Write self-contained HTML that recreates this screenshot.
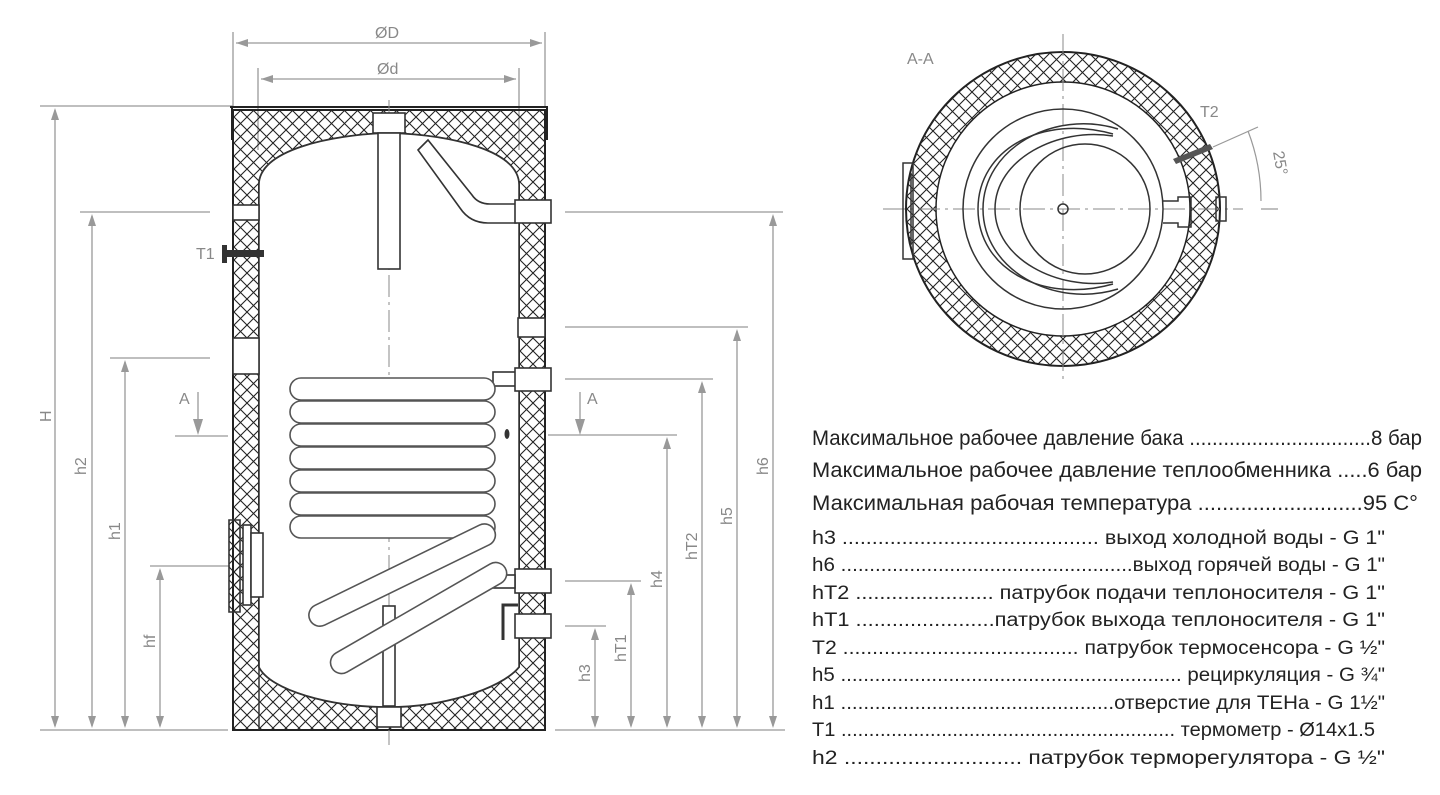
<!DOCTYPE html>
<html><head><meta charset="utf-8"><style>
html,body{margin:0;padding:0;background:#fff;width:1440px;height:795px;overflow:hidden}
svg{display:block}
text{font-family:"Liberation Sans",sans-serif}
</style></head><body>
<svg width="1440" height="795" viewBox="0 0 1440 795" xmlns="http://www.w3.org/2000/svg">
<defs>
<pattern id="h" patternUnits="userSpaceOnUse" width="13" height="13">
<path d="M0,0L13,13M13,0L0,13" stroke="#222" stroke-width="1.1"/>
</pattern>
</defs>

<!-- dimension lines -->
<g stroke="#999" stroke-width="1.3" fill="none">
<line x1="233" y1="32" x2="233" y2="108"/><line x1="545" y1="32" x2="545" y2="108"/>
<line x1="236" y1="43" x2="542" y2="43"/>
<line x1="258" y1="68" x2="258" y2="150"/><line x1="519" y1="68" x2="519" y2="150"/>
<line x1="261" y1="79" x2="516" y2="79"/>
<line x1="40" y1="106" x2="233" y2="106"/>
<line x1="40" y1="730" x2="228" y2="730"/>
<line x1="555" y1="730" x2="785" y2="730"/>
<line x1="80" y1="212" x2="210" y2="212"/>
<line x1="110" y1="358" x2="210" y2="358"/>
<line x1="175" y1="436" x2="228" y2="436"/>
<line x1="150" y1="566" x2="230" y2="566"/>
<line x1="565" y1="212" x2="783" y2="212"/>
<line x1="565" y1="327" x2="748" y2="327"/>
<line x1="565" y1="379" x2="713" y2="379"/>
<line x1="548" y1="435" x2="677" y2="435"/>
<line x1="565" y1="581" x2="641" y2="581"/>
<line x1="565" y1="626" x2="606" y2="626"/>
<line x1="55" y1="110" x2="55" y2="726"/>
<line x1="92" y1="216" x2="92" y2="726"/>
<line x1="125" y1="362" x2="125" y2="726"/>
<line x1="160" y1="570" x2="160" y2="726"/>
<line x1="773" y1="216" x2="773" y2="726"/>
<line x1="737" y1="331" x2="737" y2="726"/>
<line x1="702" y1="383" x2="702" y2="726"/>
<line x1="667" y1="439" x2="667" y2="726"/>
<line x1="631" y1="585" x2="631" y2="726"/>
<line x1="595" y1="630" x2="595" y2="726"/>
<line x1="198" y1="392" x2="198" y2="422"/>
<line x1="580" y1="392" x2="580" y2="422"/>
</g>
<g fill="#999">
<path d="M236,43l12,-4v8z M542,43l-12,-4v8z M261,79l12,-4v8z M516,79l-12,-4v8z"/>
<path d="M55,108l-4,12h8z M55,728l-4,-12h8z M92,214l-4,12h8z M92,728l-4,-12h8z M125,360l-4,12h8z M125,728l-4,-12h8z M160,568l-4,12h8z M160,728l-4,-12h8z"/>
<path d="M773,214l-4,12h8z M773,728l-4,-12h8z M737,329l-4,12h8z M737,728l-4,-12h8z M702,381l-4,12h8z M702,728l-4,-12h8z M667,437l-4,12h8z M667,728l-4,-12h8z M631,583l-4,12h8z M631,728l-4,-12h8z M595,628l-4,12h8z M595,728l-4,-12h8z"/>
<path d="M198,435l-5,-16h10z M580,435l-5,-16h10z"/>
</g>
<g fill="#888" font-size="16">
<text x="375" y="38">ØD</text>
<text x="377" y="74">Ød</text>
<text x="196" y="259">T1</text>
<text x="179" y="404">A</text>
<text x="587" y="404">A</text>
<text x="496" y="422">T2</text>
<text transform="translate(51,422) rotate(-90)">H</text>
<text transform="translate(86,475) rotate(-90)">h2</text>
<text transform="translate(120,540) rotate(-90)">h1</text>
<text transform="translate(155,648) rotate(-90)">hf</text>
<text transform="translate(768,475) rotate(-90)">h6</text>
<text transform="translate(732,525) rotate(-90)">h5</text>
<text transform="translate(697,560) rotate(-90)">hT2</text>
<text transform="translate(662,588) rotate(-90)">h4</text>
<text transform="translate(626,662) rotate(-90)">hT1</text>
<text transform="translate(590,682) rotate(-90)">h3</text>
<text x="907" y="64">A-A</text>
<text x="1200" y="117">T2</text>
<text transform="translate(1273,152) rotate(80)">25°</text>
</g>

<!-- tank insulation -->
<path fill="url(#h)" fill-rule="evenodd" stroke="#222" stroke-width="2" d="M233,110H545V730H233Z M259,185C259,150 330,135 389,133C450,135 519,150 519,185L519,667C500,690 440,707 389,707C330,707 270,690 259,667Z"/>
<path d="M259,185C259,150 330,135 389,133C450,135 519,150 519,185L519,667C500,690 440,707 389,707C330,707 270,690 259,667Z" fill="#fff" stroke="#333" stroke-width="1.5"/>
<line x1="259" y1="660" x2="259" y2="730" stroke="#333" stroke-width="1.5"/>
<line x1="230" y1="107" x2="548" y2="107" stroke="#222" stroke-width="2"/>
<line x1="232" y1="107" x2="232" y2="140" stroke="#222" stroke-width="2"/>
<line x1="547" y1="107" x2="547" y2="140" stroke="#222" stroke-width="2"/>

<line x1="389" y1="100" x2="389" y2="745" stroke="#888" stroke-width="1" stroke-dasharray="22,5,3,5"/>

<g fill="#fff" stroke="#333" stroke-width="1.6">
<rect x="373" y="113" width="32" height="20"/>
<rect x="378" y="133" width="22" height="136"/>
<path d="M418,150L428,140L472,195Q478,204 490,204H516V223H488Q470,223 460,208Z"/>
<rect x="383" y="606" width="12" height="100"/>
<rect x="377" y="707" width="24" height="20"/>
<rect x="233" y="205" width="26" height="15"/>
<rect x="233" y="338" width="26" height="36"/>
<path d="M229,520H240V612H229Z" fill="url(#h)"/>
<rect x="243" y="525" width="8" height="80"/>
<rect x="251" y="533" width="12" height="64"/>
<rect x="515" y="200" width="36" height="23"/>
<rect x="518" y="318" width="27" height="19"/>
<rect x="493" y="372" width="24" height="14"/>
<rect x="515" y="368" width="36" height="23"/>
<rect x="515" y="569" width="36" height="24"/>
<rect x="515" y="614" width="36" height="24"/>
<rect x="493" y="575" width="22" height="13"/>
</g>
<path d="M503,640V605H518" fill="none" stroke="#333" stroke-width="3"/>
<g fill="#333"><rect x="222" y="250" width="42" height="7"/><rect x="222" y="245" width="5" height="18"/></g>
<ellipse cx="507" cy="434" rx="2.5" ry="5" fill="#333"/>

<g fill="#fff" stroke="#555" stroke-width="1.6">
<rect x="290" y="378" width="205" height="22" rx="11"/>
<rect x="290" y="401" width="205" height="22" rx="11"/>
<rect x="290" y="424" width="205" height="22" rx="11"/>
<rect x="290" y="447" width="205" height="22" rx="11"/>
<rect x="290" y="470" width="205" height="22" rx="11"/>
<rect x="290" y="493" width="205" height="22" rx="11"/>
<rect x="290" y="516" width="205" height="22" rx="11"/>
<rect x="0" y="-11" width="205" height="22" rx="11" transform="translate(310,620) rotate(-26)"/>
<rect x="0" y="-11" width="200" height="22" rx="11" transform="translate(332,668) rotate(-30)"/>
</g>

<g transform="translate(1063,209)">
<circle r="157" fill="url(#h)" stroke="#222" stroke-width="2"/>
<circle r="127" fill="#fff" stroke="#222" stroke-width="1.5"/>
<line x1="-180" y1="0" x2="180" y2="0" stroke="#888" stroke-dasharray="22,5,3,5"/>
<line x1="0" y1="-175" x2="0" y2="175" stroke="#888" stroke-dasharray="22,5,3,5"/>
<g fill="none" stroke="#333" stroke-width="1.5">
<circle r="100"/>
<circle cx="22" r="65"/>
<path d="M50,-75C-20,-95 -85,-60 -85,0C-85,60 -20,95 50,75"/>
<path d="M50,-73C-5,-82 -68,-50 -68,0C-68,50 -5,82 50,73"/>
<path d="M55,-80C-10,-100 -80,-60 -80,0C-80,60 -10,100 55,80"/>
<circle r="5"/>
<rect x="-160" y="-46" width="10" height="96"/>
<path d="M-152,-36V36"/>
<path d="M100,-8L115,-8V-12H128V18H115V14H100"/>
<rect x="153" y="-12" width="10" height="24"/>
</g>
<path d="M110,-50L147,-65L150,-60L113,-45Z" fill="#555"/>
<path d="M150,-62L195,-82 M198,0H215" stroke="#999" stroke-width="1.2"/>
<path d="M185,-78A195,195 0 0 1 198,-8" stroke="#999" stroke-width="1.2" fill="none"/>
</g>

<g fill="#222">
<text x="812" y="445" font-size="21" textLength="610" lengthAdjust="spacingAndGlyphs">Максимальное рабочее давление бака ................................8 бар</text>
<text x="812" y="477" font-size="21" textLength="610" lengthAdjust="spacingAndGlyphs">Максимальное рабочее давление теплообменника .....6 бар</text>
<text x="812" y="510" font-size="21" textLength="606" lengthAdjust="spacingAndGlyphs">Максимальная рабочая температура ...........................95 C°</text>
<g font-size="19">
<text x="812" y="544" textLength="573" lengthAdjust="spacingAndGlyphs">h3 ........................................... выход холодной воды - G 1"</text>
<text x="812" y="571" textLength="573" lengthAdjust="spacingAndGlyphs">h6 ...................................................выход горячей воды - G 1"</text>
<text x="812" y="599" textLength="573" lengthAdjust="spacingAndGlyphs">hT2 ....................... патрубок подачи теплоносителя - G 1"</text>
<text x="812" y="626" textLength="573" lengthAdjust="spacingAndGlyphs">hT1 .......................патрубок выхода теплоносителя - G 1"</text>
<text x="812" y="654" textLength="573" lengthAdjust="spacingAndGlyphs">T2 ........................................ патрубок термосенсора - G ½"</text>
<text x="812" y="681" textLength="573" lengthAdjust="spacingAndGlyphs">h5 ............................................................ рециркуляция - G ¾"</text>
<text x="812" y="709" textLength="573" lengthAdjust="spacingAndGlyphs">h1 ................................................отверстие для ТЕНа - G 1½"</text>
<text x="812" y="736" textLength="563" lengthAdjust="spacingAndGlyphs">T1 ............................................................ термометр - Ø14x1.5</text>
<text x="812" y="764" textLength="573" lengthAdjust="spacingAndGlyphs">h2 ............................ патрубок терморегулятора - G ½"</text>
</g>
</g>
</svg>
</body></html>
